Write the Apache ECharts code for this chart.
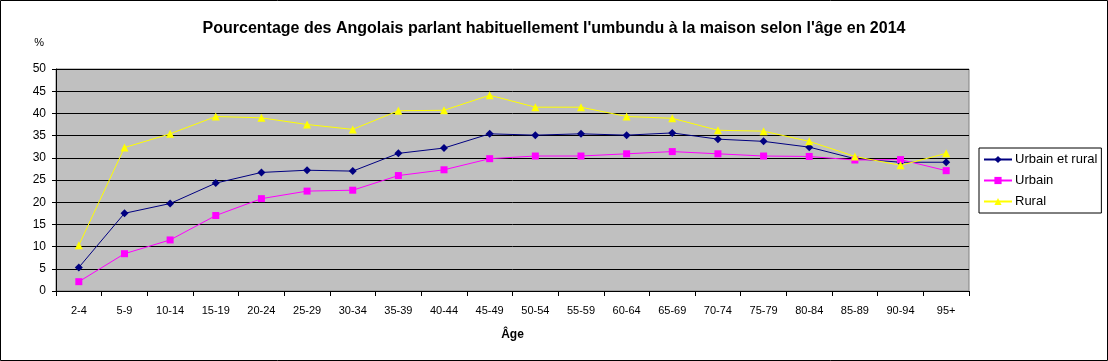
<!DOCTYPE html>
<html><head><meta charset="utf-8">
<script src="https://cdn.jsdelivr.net/npm/echarts@6/dist/echarts.min.js"></script>
<style>html,body{margin:0;padding:0;background:#fff}#c{width:1108px;height:361px}</style>
</head><body><div id="c"></div>
<script>
const categories = ['2-4','5-9','10-14','15-19','20-24','25-29','30-34','35-39','40-44','45-49','50-54','55-59','60-64','65-69','70-74','75-79','80-84','85-89','90-94','95+'];
const urbainEtRural = [5.3,17.5,19.7,24.3,26.7,27.2,27.0,31.0,32.2,35.4,35.1,35.4,35.1,35.6,34.2,33.7,32.4,29.8,29.0,29.0];
const urbain = [2.1,8.4,11.5,17.0,20.8,22.5,22.7,26.0,27.3,29.8,30.4,30.4,30.9,31.4,30.9,30.4,30.3,29.5,29.6,27.1];
const rural = [10.3,32.3,35.4,39.3,39.0,37.5,36.4,40.6,40.7,44.1,41.4,41.4,39.3,38.9,36.2,36.0,33.7,30.3,28.3,31.0];
const yTicks = [0,5,10,15,20,25,30,35,40,45,50];

const font = 'Liberation Sans, Arial, sans-serif';
const chart = echarts.init(document.getElementById('c'), null, {renderer:'canvas'});
chart.setOption({
  animation:false,
  backgroundColor:'#fff',
  title:{text:"Pourcentage des Angolais parlant habituellement l'umbundu à la maison selon l'âge en 2014",
    left:'center', top:16, textStyle:{fontFamily:font,fontSize:16,fontWeight:'bold',color:'#000'}},
  grid:{left:56, top:69, right:139, bottom:70, show:true, backgroundColor:'#C0C0C0', borderColor:'#808080', borderWidth:1},
  legend:{orient:'vertical', left:979, top:148, width:120, itemGap:8, itemWidth:28, itemHeight:9,
    backgroundColor:'#fff', borderColor:'#000', borderWidth:1, padding:[5,4,5,4],
    textStyle:{fontFamily:font,fontSize:13,color:'#000',padding:[0,0,0,-2]},
    data:['Urbain et rural','Urbain','Rural']},
  xAxis:{type:'category', data:categories, boundaryGap:true,
    name:'Âge', nameLocation:'middle', nameGap:38,
    nameTextStyle:{fontFamily:font,fontSize:12,fontWeight:'bold',color:'#000'},
    axisLine:{lineStyle:{color:'#000',width:1}},
    axisTick:{show:true,length:5,alignWithLabel:false,lineStyle:{color:'#000'}},
    axisLabel:{fontFamily:font,fontSize:11,color:'#000',margin:14,interval:0},
    splitLine:{show:false}},
  yAxis:{type:'value', min:0, max:50, interval:5,
    name:'%', nameLocation:'end', nameGap:21,
    nameTextStyle:{fontFamily:font,fontSize:11,color:'#000',align:'right',padding:[0,12,0,0]},
    axisLine:{show:true,lineStyle:{color:'#000',width:1}},
    axisTick:{show:true,length:4,lineStyle:{color:'#000'}},
    axisLabel:{fontFamily:font,fontSize:12,color:'#000',margin:10,
      formatter:v=>yTicks.includes(v)?String(v):''},
    splitLine:{show:true,lineStyle:{color:'#000',width:1}}},
  series:[
    {name:'Urbain et rural', type:'line', data:urbainEtRural, symbol:'diamond', symbolSize:8,
      lineStyle:{color:'#000080',width:1}, itemStyle:{color:'#000080'}},
    {name:'Urbain', type:'line', data:urbain, symbol:'rect', symbolSize:7,
      lineStyle:{color:'#FF00FF',width:1}, itemStyle:{color:'#FF00FF'}},
    {name:'Rural', type:'line', data:rural, symbol:'triangle', symbolSize:8,
      lineStyle:{color:'#FFFF00',width:1}, itemStyle:{color:'#FFFF00'}}
  ],
  graphic:[{type:'rect', shape:{x:0.5,y:0.5,width:1107,height:360}, style:{fill:'none',stroke:'#000',lineWidth:1}, silent:true}]
});
</script></body></html>
